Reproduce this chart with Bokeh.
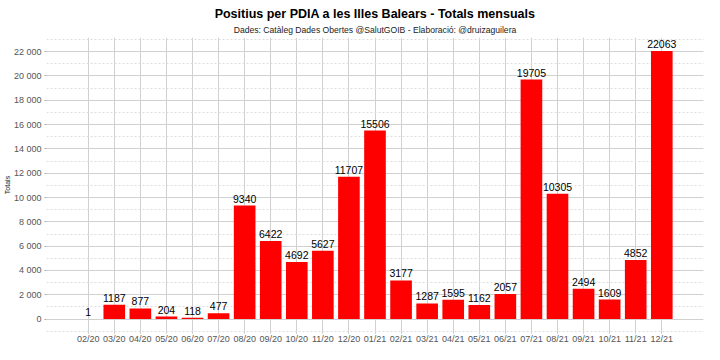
from bokeh.plotting import figure
from bokeh.models import ColumnDataSource, FactorRange, Range1d, SingleIntervalTicker, Title, CustomJSTickFormatter
from bokeh.embed import file_html
from bokeh.resources import INLINE
from bokeh.core.properties import value

months = ["02/20", "03/20", "04/20", "05/20", "06/20", "07/20", "08/20", "09/20",
          "10/20", "11/20", "12/20", "01/21", "02/21", "03/21", "04/21", "05/21",
          "06/21", "07/21", "08/21", "09/21", "10/21", "11/21", "12/21"]
totals = [1, 1187, 877, 204, 118, 477, 9340, 6422, 4692, 5627, 11707, 15506,
          3177, 1287, 1595, 1162, 2057, 19705, 10305, 2494, 1609, 4852, 22063]

title_text = "Positius per PDIA a les Illes Balears - Totals mensuals"
subtitle_text = "Dades: Catàleg Dades Obertes @SalutGOIB - Elaboració: @druizaguilera"

FONT = "Liberation Sans"

src = ColumnDataSource(dict(month=months, total=totals, label=[str(v) for v in totals]))

ymax = max(totals)
p = figure(frame_width=657, frame_height=295, output_backend="svg", toolbar_location=None,
           x_range=FactorRange(factors=months, range_padding=1.1, range_padding_units="absolute"),
           y_range=Range1d(-0.05 * ymax, 1.05 * ymax),
           min_border_left=0, min_border_right=9, min_border_top=0, min_border_bottom=0)

p.add_layout(Title(text=subtitle_text, align="center", text_font=FONT, text_font_size="8.6px",
                   text_font_style="normal", text_color="#222222", standoff=5, offset=0), "above")
p.add_layout(Title(text=title_text, align="center", text_font=FONT, text_font_size="12.5px",
                   text_font_style="bold", text_color="#000000", standoff=0, offset=0), "above")
p.add_layout(Title(text=" ", align="center", text_font=FONT, text_font_size="2px",
                   standoff=0, offset=0), "above")

p.vbar(x="month", top="total", width=0.83, source=src, fill_color="#ff0000", line_color=None)
p.text(x="month", y="total", text="label", source=src, text_align="center", text_baseline="bottom",
       y_offset=-3, text_font=value(FONT), text_font_size="10.5px", text_color="#000000")

p.outline_line_color = None
p.background_fill_color = "white"

p.yaxis.ticker = SingleIntervalTicker(interval=2000, num_minor_ticks=2)
p.yaxis.formatter = CustomJSTickFormatter(code="return tick.toString().replace(/\\B(?=(\\d{3})+(?!\\d))/g, ' ');")
p.yaxis.axis_label = "Totals"
p.yaxis.axis_label_text_font = FONT
p.yaxis.axis_label_text_font_size = "7px"
p.yaxis.axis_label_text_font_style = "normal"
p.yaxis.axis_label_standoff = 0
p.yaxis.axis_label_text_color = "#222222"
p.xaxis.axis_label_standoff = 0

for ax in (p.xaxis, p.yaxis):
    ax.axis_line_color = None
    ax.major_tick_line_color = "#aaaaaa"
    ax.major_tick_out = 2
    ax.major_tick_in = 0
    ax.minor_tick_line_color = None
    ax.major_label_text_font = FONT
    ax.major_label_text_color = "#555555"
    ax.major_label_standoff = 1
p.xaxis.major_label_standoff = 0
p.xaxis.major_tick_out = 1
p.yaxis.major_label_text_font_size = "9px"
p.xaxis.major_label_text_font_size = "9px"

p.ygrid.ticker = SingleIntervalTicker(interval=2000, num_minor_ticks=2)
p.ygrid.grid_line_color = "#d0d0d0"
p.ygrid.grid_line_width = 1
p.ygrid.minor_grid_line_color = "#dddddd"
p.ygrid.minor_grid_line_dash = "2 2"
p.xgrid.grid_line_color = "#d0d0d0"

open("out.html", "w").write(file_html(p, INLINE))
